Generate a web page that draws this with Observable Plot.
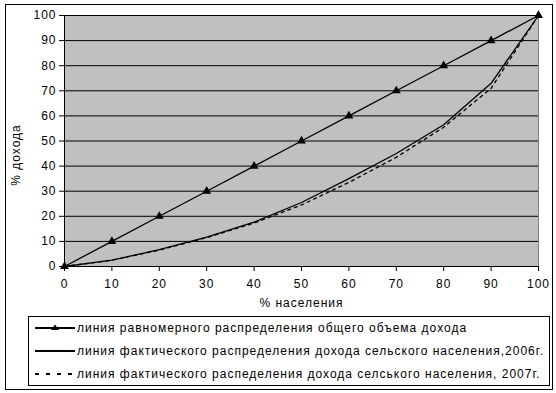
<!DOCTYPE html>
<html>
<head>
<meta charset="utf-8">
<script src="https://cdn.jsdelivr.net/npm/d3@7"></script>
<script src="https://cdn.jsdelivr.net/npm/@observablehq/plot@0.6"></script>
<style>
  html, body { margin: 0; padding: 0; background: #fff; }
  body { width: 556px; height: 393px; overflow: hidden; font-family: "Liberation Sans", Arial, sans-serif; }
  #wrap { position: relative; width: 556px; height: 393px; }
  #frame { position: absolute; left: 5px; top: 4px; width: 546px; height: 384px; border: 1px solid #000; box-sizing: content-box; }
  #chart { position: absolute; left: 0; top: 0; }
  #chart svg text { letter-spacing: 1px; }
  #legend { position: absolute; left: 28px; top: 316px; width: 520px; height: 68px; border: 1px solid #000; background: #fff; font-size: 12px; letter-spacing: 1px; color: #000; }
  .row { position: absolute; left: 0; height: 16px; display: flex; align-items: center; white-space: nowrap; }
  .row svg { display: block; margin-left: 6px; margin-right: 2px; }
</style>
</head>
<body>
<div id="wrap">
  <div id="frame"></div>
  <div id="chart"></div>
  <div id="legend"></div>
</div>
<script>
// Data
const population = [0, 10, 20, 30, 40, 50, 60, 70, 80, 90, 100];
const equalLine  = [0, 10, 20, 30, 40, 50, 60, 70, 80, 90, 100];
const actual2006 = [0, 2.5, 6.7, 11.7, 17.7, 25.5, 35, 45, 56.5, 73, 100];
const actual2007 = [0, 2.5, 6.5, 11.5, 17.3, 24.5, 33.5, 43.5, 55.5, 71, 100];
const xTicks = [0, 10, 20, 30, 40, 50, 60, 70, 80, 90, 100];
const yTicks = [0, 10, 20, 30, 40, 50, 60, 70, 80, 90, 100];
const seriesNames = [
  "линия равномерного распределения общего объема дохода",
  "линия фактического распределения дохода сельского населения,2006г.",
  "линия фактического распеделения дохода селського населения, 2007г."
];
const xLabel = "% населения";
const yLabel = "% дохода";

const eq = population.map((x, i) => ({x, y: equalLine[i]}));
const a06 = population.map((x, i) => ({x, y: actual2006[i]}));
const a07 = population.map((x, i) => ({x, y: actual2007[i]}));

const font = "Liberation Sans, Arial, sans-serif";

const chart = Plot.plot({
  width: 556,
  height: 320,
  marginLeft: 64,
  marginRight: 18,
  marginTop: 15,
  marginBottom: 54,
  style: {fontFamily: font, fontSize: "12px", color: "#000", background: "transparent", overflow: "visible"},
  x: {domain: [0, 100]},
  y: {domain: [0, 100]},
  marks: [
    Plot.frame({fill: "#c0c0c0", stroke: "#808080"}),
    Plot.ruleY(yTicks.filter(d => d > 0), {stroke: "#000", strokeWidth: 1}),
    Plot.ruleX([0], {stroke: "#000"}),
    Plot.ruleY([0], {stroke: "#000"}),
    Plot.axisY({ticks: yTicks, tickSize: 5, tickPadding: 3, label: null, fontSize: 12, stroke: "#000"}),
    Plot.axisX({ticks: xTicks, tickSize: 5, tickPadding: 8, label: null, fontSize: 12, stroke: "#000"}),
    Plot.line(a07, {x: "x", y: "y", stroke: "#000", strokeWidth: 1.3, strokeDasharray: "3,4"}),
    Plot.line(a06, {x: "x", y: "y", stroke: "#000", strokeWidth: 1.3}),
    Plot.line(eq, {x: "x", y: "y", stroke: "#000", strokeWidth: 1.3}),
    Plot.dot(eq, {x: "x", y: "y", symbol: "triangle", r: 3.3, fill: "#000", stroke: "none"}),
    Plot.text([xLabel], {frameAnchor: "bottom", dy: 37, lineAnchor: "middle", textAnchor: "middle", fontSize: 12, fill: "#000"}),
    Plot.text([yLabel], {frameAnchor: "left", dx: -48, dy: 14, rotate: -90, lineAnchor: "middle", textAnchor: "middle", fontSize: 12, fill: "#000"})
  ]
});
document.getElementById("chart").appendChild(chart);

// Legend
const legend = document.getElementById("legend");
const tops = [3, 26, 49];
seriesNames.forEach((name, i) => {
  const row = document.createElement("div");
  row.className = "row";
  row.style.top = tops[i] + "px";
  let sw;
  if (i === 0) {
    sw = `<svg width="40" height="10"><line x1="0" y1="5" x2="40" y2="5" stroke="#000" stroke-width="2"/><path d="M20,1.5 L24,7 L16,7 Z" fill="#000"/></svg>`;
  } else if (i === 1) {
    sw = `<svg width="40" height="10"><line x1="0" y1="5" x2="40" y2="5" stroke="#000" stroke-width="2"/></svg>`;
  } else {
    sw = `<svg width="40" height="10"><line x1="0" y1="5" x2="40" y2="5" stroke="#000" stroke-width="2" stroke-dasharray="4,7"/></svg>`;
  }
  row.innerHTML = sw + `<span>${name}</span>`;
  legend.appendChild(row);
});
</script>
</body>
</html>
